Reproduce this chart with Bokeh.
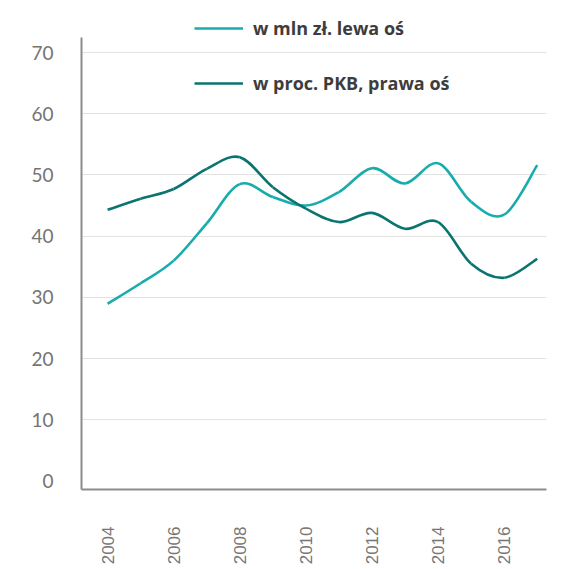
import math
from bokeh.plotting import figure
from bokeh.models import Range1d, Legend, LegendItem, FixedTicker
from bokeh.embed import file_html
from bokeh.resources import INLINE

# ---- data ----
years = list(range(2004, 2018))
mln_zl = [28.95, 32.3, 36.0, 42.1, 48.5, 46.4, 45.0, 47.2, 51.1, 48.6, 51.9, 45.6, 43.5, 51.6]
proc_pkb = [44.3, 46.1, 47.7, 51.0, 52.9, 48.0, 44.5, 42.3, 43.8, 41.2, 42.3, 35.5, 33.2, 36.3]
series_labels = ["w mln zł. lewa oś", "w proc. PKB, prawa oś"]
y_ticks = [0, 10, 20, 30, 40, 50, 60, 70]
x_ticks = [2004, 2006, 2008, 2010, 2012, 2014, 2016]

LIGHT = "#18acac"
DARK = "#0b7471"

Y_MIN, Y_AXIS_TOP, Y_MAX = -1.39, 72.47, 78.5


def bezier_cols(xs, ys):
    """Catmull-Rom style control points for a smooth curve through the data."""
    n = len(xs)
    d = dict(x0=[], y0=[], x1=[], y1=[], cx0=[], cy0=[], cx1=[], cy1=[])
    for i in range(n - 1):
        pm = max(i - 1, 0)
        pp = min(i + 2, n - 1)
        d["x0"].append(xs[i]); d["y0"].append(ys[i])
        d["x1"].append(xs[i + 1]); d["y1"].append(ys[i + 1])
        d["cx0"].append(xs[i] + (xs[i + 1] - xs[pm]) / 6.0)
        d["cy0"].append(ys[i] + (ys[i + 1] - ys[pm]) / 6.0)
        d["cx1"].append(xs[i + 1] - (xs[pp] - xs[i]) / 6.0)
        d["cy1"].append(ys[i + 1] - (ys[pp] - ys[i]) / 6.0)
    return d


p = figure(width=570, height=569, output_backend="svg", toolbar_location=None,
           x_range=Range1d(2003.21, 2017.28), y_range=Range1d(Y_MIN, Y_MAX),
           min_border_left=81, min_border_right=24, min_border_top=0, min_border_bottom=80)
p.outline_line_color = None
p.background_fill_color = "white"
p.border_fill_color = "white"

r1 = p.bezier(line_color=LIGHT, line_width=2.6, **bezier_cols(years, mln_zl))
r2 = p.bezier(line_color=DARK, line_width=2.6, **bezier_cols(years, proc_pkb))

# axes
p.xaxis.ticker = FixedTicker(ticks=x_ticks)
p.yaxis.ticker = FixedTicker(ticks=y_ticks)
p.yaxis.bounds = (Y_MIN, Y_AXIS_TOP)
for ax in (p.xaxis[0], p.yaxis[0]):
    ax.axis_line_color = "#8c8c8c"
    ax.axis_line_width = 2
    ax.major_tick_line_color = None
    ax.minor_tick_line_color = None
p.xaxis.major_label_orientation = math.pi / 2
p.xaxis.major_label_text_font = "Liberation Sans"
p.xaxis.major_label_text_font_size = "17px"
p.xaxis.major_label_text_color = "#767676"
p.xaxis.major_label_standoff = 31
p.yaxis.major_label_text_font = "Lato"
p.yaxis.major_label_text_font_size = "19px"
p.yaxis.major_label_text_color = "#747474"
p.yaxis.major_label_standoff = 22

p.xgrid.grid_line_color = None
p.ygrid.ticker = FixedTicker(ticks=y_ticks[1:])
p.ygrid.grid_line_color = "#e2e2e2"
p.ygrid.grid_line_width = 1

legend = Legend(items=[LegendItem(label=series_labels[0], renderers=[r1]),
                       LegendItem(label=series_labels[1], renderers=[r2])],
                location=(113, 394), orientation="vertical",
                spacing=31, padding=0, margin=0,
                glyph_width=49, glyph_height=20, label_height=20, label_standoff=10,
                label_text_font="Open Sans", label_text_font_style="bold",
                label_text_font_size="18px", label_text_color="#3d3d3d",
                background_fill_alpha=0, border_line_color=None)
p.add_layout(legend)

open("out.html", "w").write(file_html(p, INLINE))
